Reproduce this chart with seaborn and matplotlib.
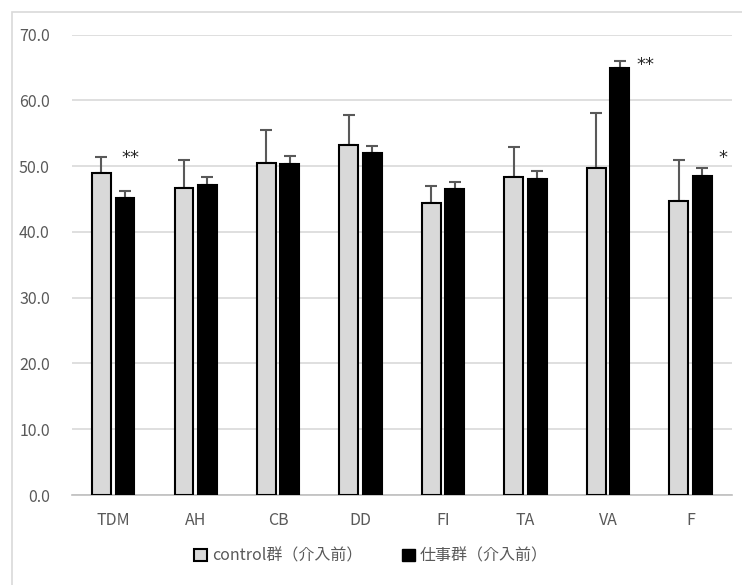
import pandas as pd
import seaborn as sns
import matplotlib.pyplot as plt
from matplotlib.patches import Rectangle, Patch

# data
categories = ['TDM', 'AH', 'CB', 'DD', 'FI', 'TA', 'VA', 'F']
groups = ['control群（介入前）', '仕事群（介入前）']
control_mean = [48.9, 46.7, 50.5, 53.2, 44.4, 48.4, 49.7, 44.7]
control_sd = [2.5, 4.2, 5.0, 4.6, 2.6, 4.5, 8.4, 6.3]
work_mean = [45.1, 47.2, 50.3, 52.0, 46.5, 48.1, 64.9, 48.5]
work_sd = [1.1, 1.1, 1.3, 1.0, 1.1, 1.1, 1.1, 1.2]
# significance marks: (category, label, height)
marks = [('TDM', '**', 51.2), ('VA', '**', 65.3), ('F', '*', 51.2)]

df = pd.DataFrame({
    'cat': categories * 2,
    'group': [groups[0]] * 8 + [groups[1]] * 8,
    'value': control_mean + work_mean,
})

sns.set_style('white')
plt.rcParams['font.family'] = ['Noto Sans CJK JP', 'DejaVu Sans']

fig = plt.figure(figsize=(7.42, 5.85), dpi=100)
ax = fig.add_axes([0.097, 0.1538, 0.889, 0.7872])

palette = {groups[0]: '#d9d9d9', groups[1]: '#000000'}
sns.barplot(data=df, x='cat', y='value', hue='group', order=categories,
            hue_order=groups, palette=palette, width=0.57, gap=0.2,
            edgecolor='black', linewidth=1.5, errorbar=None, legend=False,
            ax=ax, zorder=3)

# upper-only error bars on each bar
for cont, means, sds in zip(ax.containers, [control_mean, work_mean], [control_sd, work_sd]):
    xs = [p.get_x() + p.get_width() / 2 for p in cont.patches]
    ax.errorbar(xs, means, yerr=[[0] * len(sds), sds], fmt='none',
                ecolor='#595959', elinewidth=1.5, capsize=4, capthick=1.5, zorder=2)

offsets = {'TDM': 0.21, 'VA': 0.46, 'F': 0.39}
for cat, label, h in marks:
    ax.text(categories.index(cat) + offsets[cat], h, label, ha='center', va='center',
            fontsize=13, color='#262626', family='DejaVu Sans')

ax.set_ylim(0, 70)
ax.set_xlim(-0.5, len(categories) - 0.5)
ax.set_yticks(range(0, 71, 10))
ax.set_yticklabels([f'{v:.1f}' for v in range(0, 71, 10)])
ax.set_xlabel('')
ax.set_ylabel('')
ax.yaxis.grid(True, color='#d9d9d9', linewidth=1.2, zorder=0)
ax.set_axisbelow(True)
for s in ['top', 'right', 'left']:
    ax.spines[s].set_visible(False)
ax.spines['bottom'].set_color('#bfbfbf')
ax.spines['bottom'].set_linewidth(1.2)
ax.tick_params(axis='both', length=0, labelsize=11.5, colors='#595959', pad=12)
ax.tick_params(axis='y', pad=16)

handles = [Patch(facecolor='#d9d9d9', edgecolor='black', linewidth=1.5),
           Patch(facecolor='black', edgecolor='black')]
fig.legend(handles, groups, loc='center', bbox_to_anchor=(0.5, 0.05), ncol=2,
           frameon=False, fontsize=11.5, labelcolor='#595959', handlelength=0.8,
           handleheight=0.8, handletextpad=0.3, columnspacing=2.5)

# outer chart frame
fig.patches.append(Rectangle((12 / 742, -0.01), 1.0, 1 - 12 / 585 + 0.01,
                             transform=fig.transFigure, fill=False,
                             edgecolor='#d9d9d9', linewidth=1.2))

fig.savefig('out.png', dpi=100)
